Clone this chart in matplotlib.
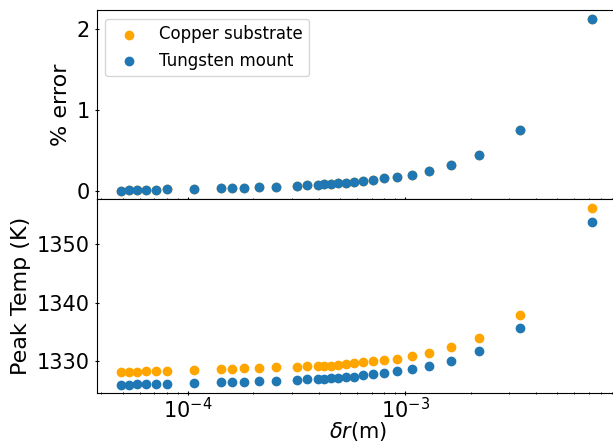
import matplotlib
matplotlib.use("Agg")
import matplotlib.pyplot as plt

# grid spacing (m)
dr = [4.92e-5, 5.33e-5, 5.83e-5, 6.40e-5, 7.12e-5, 7.99e-5, 1.065e-4, 1.416e-4,
      1.595e-4, 1.817e-4, 2.13e-4, 2.55e-4, 3.19e-4, 3.55e-4, 3.99e-4, 4.25e-4,
      4.56e-4, 4.89e-4, 5.33e-4, 5.83e-4, 6.41e-4, 7.12e-4, 8.01e-4, 9.17e-4,
      1.074e-3, 1.294e-3, 1.627e-3, 2.19e-3, 3.37e-3, 7.27e-3]

# peak temperatures (K)
t_copper = [1328.13, 1328.13, 1328.13, 1328.2, 1328.25, 1328.3, 1328.5, 1328.6,
            1328.65, 1328.7, 1328.8, 1328.9, 1329.0, 1329.05, 1329.1, 1329.15,
            1329.2, 1329.35, 1329.45, 1329.55, 1329.8, 1329.9, 1330.2, 1330.4,
            1330.9, 1331.4, 1332.3, 1334.0, 1337.9, 1356.2]
t_tungsten = [1325.93, 1325.93, 1326.0, 1326.0, 1326.05, 1326.1, 1326.2, 1326.3,
              1326.35, 1326.45, 1326.55, 1326.6, 1326.7, 1326.8, 1326.9, 1326.95,
              1327.0, 1327.1, 1327.2, 1327.3, 1327.5, 1327.7, 1328.0, 1328.2,
              1328.6, 1329.1, 1330.05, 1331.7, 1335.7, 1353.9]

# percent error (both cases overlap)
err_copper = [0.008, 0.012, 0.013, 0.016, 0.020, 0.024, 0.033, 0.037, 0.040, 0.045,
              0.049, 0.057, 0.070, 0.073, 0.085, 0.089, 0.094, 0.101, 0.108, 0.116,
              0.126, 0.143, 0.159, 0.179, 0.207, 0.252, 0.321, 0.448, 0.752, 2.125]
err_tungsten = list(err_copper)

fig = plt.figure(figsize=(6.13, 4.44), dpi=100)
ax1 = fig.add_axes([0.158, 0.551, 0.853, 0.426])
ax2 = fig.add_axes([0.158, 0.114, 0.853, 0.437], sharex=ax1)

ax1.scatter(dr, err_copper, color="orange", label="Copper substrate")
ax1.scatter(dr, err_tungsten, color="#1f77b4", label="Tungsten mount")
ax2.scatter(dr, t_copper, color="orange")
ax2.scatter(dr, t_tungsten, color="#1f77b4")

ax2.set_xscale("log")
ax2.set_xlim(3.81e-5, 9.72e-3)
ax1.tick_params(labelbottom=False)

for ax in (ax1, ax2):
    ax.tick_params(which="both", direction="inout", labelsize=15)
ax2.tick_params(axis="x", which="major", pad=1)

ax1.set_ylabel("% error", fontsize=16)
ax2.set_ylabel("Peak Temp (K)", fontsize=16)
ax2.set_xlabel(r"$\delta r$(m)", fontsize=15, labelpad=-2)
ax1.legend(loc="upper left", fontsize=12)

fig.savefig("out.png", dpi=100)
